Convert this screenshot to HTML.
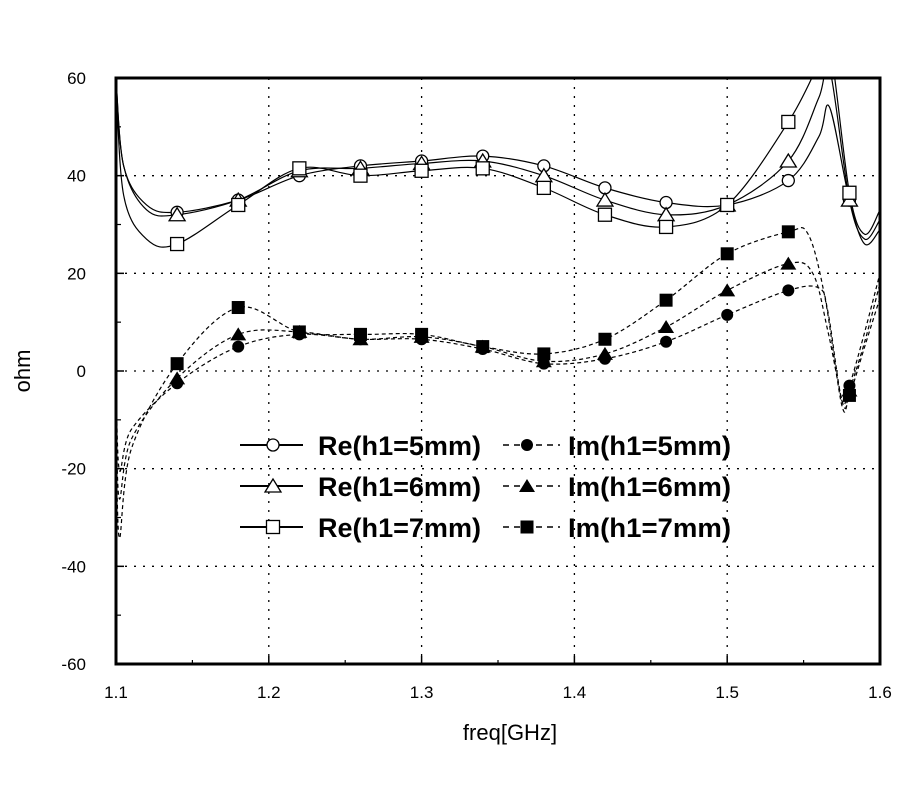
<!DOCTYPE html>
<html><head><meta charset="utf-8"><style>
body{margin:0;background:#fff;}
svg{display:block;font-family:"Liberation Sans",Arial,sans-serif;}
</style></head><body>
<svg id="chart" width="900" height="800">
<defs><clipPath id="clip"><rect x="116" y="78" width="764" height="586"/></clipPath></defs>
<g id="grid"></g>
<g id="series" clip-path="url(#clip)"></g>
<g id="markers"></g>
<rect x="116" y="78" width="764" height="586" fill="none" stroke="#000" stroke-width="3"/>
<g id="axes"></g>
<text x="510" y="740" font-size="22" text-anchor="middle">freq[GHz]</text>
<text x="30" y="371" font-size="22" text-anchor="middle" transform="rotate(-90 30 371)">ohm</text>
<g id="legend"></g>
</svg>
<script>
const xTicks=[1.1,1.2,1.3,1.4,1.5,1.6];
const yTicks=[-60,-40,-20,0,20,40,60];
const markerX=[1.14,1.18,1.22,1.26,1.30,1.34,1.38,1.42,1.46,1.50,1.54,1.58];
const re5X=[1.10,1.105,1.12,1.14,1.18,1.22,1.26,1.30,1.34,1.38,1.42,1.46,1.50,1.54,1.56,1.567,1.58,1.59,1.60];
const re5Y=[60,42,34,32.5,35,40,42,43,44,42,37.5,34.5,34,39,48,54,35,26,29];
const re6X=[1.10,1.105,1.12,1.14,1.18,1.22,1.26,1.30,1.34,1.38,1.42,1.46,1.50,1.54,1.56,1.567,1.58,1.59,1.60];
const re6Y=[60,42,33,32,35,41,41.5,42.5,43,40,35,32,34,43,56,62,35,27,31];
const re7X=[1.10,1.105,1.12,1.14,1.18,1.22,1.26,1.30,1.34,1.38,1.42,1.46,1.50,1.54,1.56,1.567,1.58,1.59,1.60];
const re7Y=[60,36,27,26,34,41.5,40,41,41.5,37.5,32,29.5,34,51,63,67,36.5,28,33];
const im5X=[1.10,1.102,1.11,1.14,1.18,1.22,1.26,1.30,1.34,1.38,1.42,1.46,1.50,1.54,1.56,1.566,1.575,1.58,1.59,1.60];
const im5Y=[4,-20,-12,-2.5,5,7.5,6.5,6.5,4.5,1.5,2.5,6,11.5,16.5,17,12,-6,-3,8,20];
const im6X=[1.10,1.102,1.11,1.14,1.18,1.22,1.26,1.30,1.34,1.38,1.42,1.46,1.50,1.54,1.556,1.566,1.576,1.58,1.59,1.60];
const im6Y=[-3,-26,-14,-1.5,7.5,8,6.5,7,5,2,3.5,9,16.5,22,20,8,-7,-4,6,18];
const im7X=[1.10,1.102,1.11,1.14,1.18,1.22,1.26,1.30,1.34,1.38,1.42,1.46,1.50,1.54,1.553,1.564,1.575,1.58,1.59,1.60];
const im7Y=[-3,-34,-16,1.5,13,8,7.5,7.5,5,3.5,6.5,14.5,24,28.5,28,15,-7,-5,5,15];
const NS='http://www.w3.org/2000/svg';
const X=v=>116+(v-1.1)/0.5*764;
const Y=v=>371-v*586/120;
function mk(tag,attrs,parent){const e=document.createElementNS(NS,tag);for(const k in attrs)e.setAttribute(k,attrs[k]);parent.appendChild(e);return e;}
const grid=document.getElementById('grid'),axes=document.getElementById('axes');
xTicks.forEach(t=>{
 if(t>1.1&&t<1.6){const l=mk('line',{x1:X(t),x2:X(t),y1:78,y2:664,stroke:'#000','stroke-width':1.3,'stroke-dasharray':'2 7'},grid);
 }
 const tk=mk('line',{x1:X(t),x2:X(t),y1:664,y2:656,stroke:'#000','stroke-width':1.5},axes);
 
 const tx=mk('text',{x:X(t),y:698,'font-size':17,'text-anchor':'middle'},axes);tx.textContent=t.toFixed(1);
 
});
for(let t=1.15;t<1.6;t+=0.1){const m=mk('line',{x1:X(t),x2:X(t),y1:664,y2:660,stroke:'#000','stroke-width':1.2},axes);
 }
yTicks.forEach(t=>{
 if(t>-60&&t<60){const l=mk('line',{x1:116,x2:880,y1:Y(t),y2:Y(t),stroke:'#000','stroke-width':1.3,'stroke-dasharray':'2 7'},grid);
 }
 const tk=mk('line',{x1:116,x2:124,y1:Y(t),y2:Y(t),stroke:'#000','stroke-width':1.5},axes);
 
 const tx=mk('text',{x:86,y:Y(t)+6,'font-size':17,'text-anchor':'end'},axes);tx.textContent=t;
 
});
for(let t=-50;t<60;t+=20){const m=mk('line',{x1:116,x2:121,y1:Y(t),y2:Y(t),stroke:'#000','stroke-width':1.2},axes);
 }
function path(xs,ys){const p=xs.map((x,i)=>[X(x),Y(ys[i])]);let d='M'+p[0][0]+','+p[0][1];
 for(let i=0;i<p.length-1;i++){const p0=p[i-1]||p[i],p1=p[i],p2=p[i+1],p3=p[i+2]||p2;
  d+=' C'+(p1[0]+(p2[0]-p0[0])/6)+','+(p1[1]+(p2[1]-p0[1])/6)+' '+(p2[0]-(p3[0]-p1[0])/6)+','+(p2[1]-(p3[1]-p1[1])/6)+' '+p2[0]+','+p2[1];}
 return d;}
function interp(xs,ys,x){for(let i=0;i<xs.length-1;i++){if(x>=xs[i]-1e-9&&x<=xs[i+1]+1e-9){const f=(x-xs[i])/(xs[i+1]-xs[i]);return ys[i]+f*(ys[i+1]-ys[i]);}}return ys[ys.length-1];}
function marker(type,cx,cy,parent,name){let e;
 if(type==='circle')e=mk('circle',{cx:cx,cy:cy,r:6,fill:'#fff',stroke:'#000','stroke-width':1.3},parent);
 else if(type==='tri')e=mk('polygon',{points:`${cx},${cy-7} ${cx-8},${cy+6} ${cx+8},${cy+6}`,fill:'#fff',stroke:'#000','stroke-width':1.3},parent);
 else if(type==='sq')e=mk('rect',{x:cx-6.5,y:cy-6.5,width:13,height:13,fill:'#fff',stroke:'#000','stroke-width':1.3},parent);
 else if(type==='fcircle')e=mk('circle',{cx:cx,cy:cy,r:6,fill:'#000'},parent);
 else if(type==='ftri')e=mk('polygon',{points:`${cx},${cy-7} ${cx-8},${cy+6} ${cx+8},${cy+6}`,fill:'#000'},parent);
 else e=mk('rect',{x:cx-6.5,y:cy-6.5,width:13,height:13,fill:'#000'},parent);
 }
const series=[
 ['re5',re5X,re5Y,'circle',false,'Re(h1=5mm)'],['re6',re6X,re6Y,'tri',false,'Re(h1=6mm)'],['re7',re7X,re7Y,'sq',false,'Re(h1=7mm)'],
 ['im5',im5X,im5Y,'fcircle',true,'Im(h1=5mm)'],['im6',im6X,im6Y,'ftri',true,'Im(h1=6mm)'],['im7',im7X,im7Y,'fsq',true,'Im(h1=7mm)']];
const sg=document.getElementById('series'),mg=document.getElementById('markers');
series.forEach(s=>{
 const p=mk('path',{d:path(s[1],s[2]),fill:'none',stroke:'#000','stroke-width':1.2,'stroke-dasharray':s[4]?'4 3':'none'},sg);
 
 markerX.forEach(mx=>{const v=interp(s[1],s[2],mx);if(v<=61&&v>=-61)marker(s[3],X(mx),Y(v),mg,s[0]+'-marker');});
});
const lg=document.getElementById('legend');
const rows=[445,486,527];
series.forEach((s,i)=>{const r=rows[i%3];const im=i>=3;
 const lx1=im?503:240,lx2=im?560:303,mx=im?527:273,tx=im?568:318;
 const l=mk('line',{x1:lx1,x2:lx2,y1:r,y2:r,stroke:'#000','stroke-width':im?1.5:2,'stroke-dasharray':im?'6 5':'none'},lg);
 
 marker(s[3],mx,r,lg,'legend-marker');
 const t=mk('text',{x:tx,y:r+10,'font-size':27,'font-weight':'bold',textLength:163,lengthAdjust:'spacingAndGlyphs'},lg);t.textContent=s[5];
 
});
</script>
</body></html>
